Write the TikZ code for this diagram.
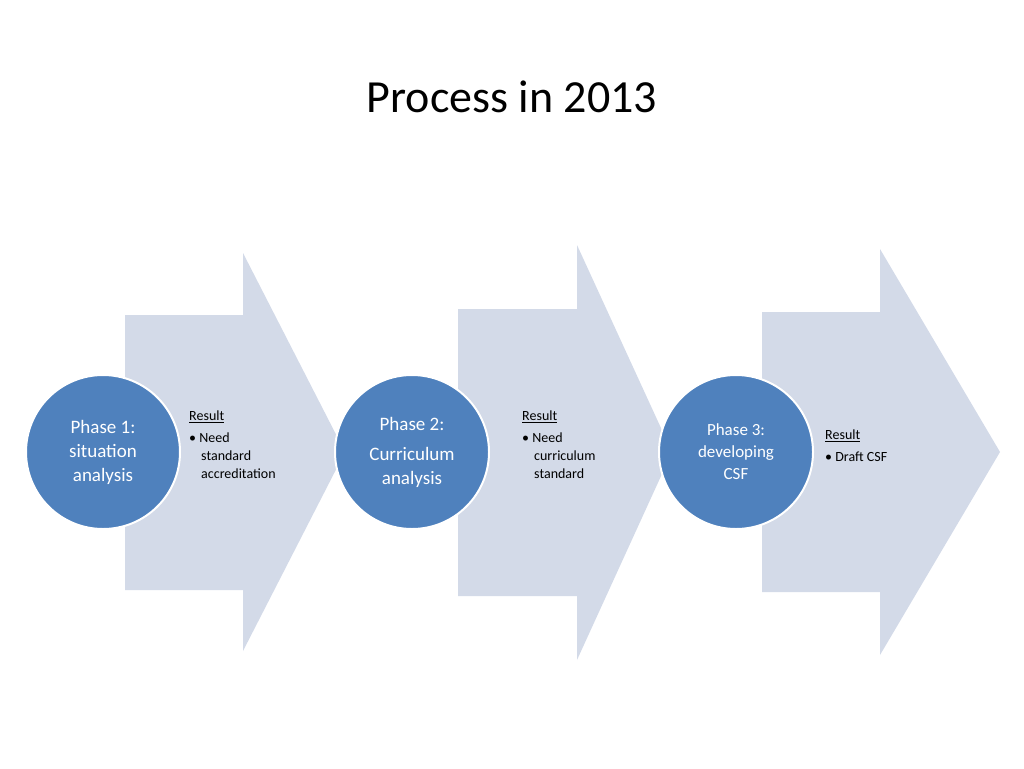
\documentclass[tikz,border=0pt]{standalone}
\usepackage{fontspec}
\setmainfont{Carlito}
\begin{document}
\begin{tikzpicture}[x=1pt,y=-1pt,
 arr/.style={fill=arrfill,draw=none},
 phase/.style={circle,fill=phblue,draw=white,line width=2pt,minimum size=154pt,text=white,align=center,font=\fontsize{19}{24}\selectfont},
 res/.style={anchor=north west,align=left,text=black,font=\fontsize{14}{18}\selectfont,inner sep=0pt}]
\definecolor{arrfill}{HTML}{D3DAE8}
\definecolor{phblue}{HTML}{4F81BD}
\useasboundingbox (0,0) rectangle (1024,768);
\node[font=\fontsize{46}{50}\selectfont] (title) at (512,97) {Process in 2013};
\fill[arrfill] (125,315) -- (243,315) -- (243,253) -- (345,452) -- (243,651) -- (243,590) -- (125,590) -- cycle;
\fill[arrfill] (458,309) -- (577,309) -- (577,245) -- (672,452) -- (577,660) -- (577,596) -- (458,596) -- cycle;
\fill[arrfill] (762,312) -- (880,312) -- (880,249) -- (1000,452) -- (880,655) -- (880,592) -- (762,592) -- cycle;
\node[phase] (p1) at (103,452) {Phase 1:\\situation\\analysis};
\node[phase] (p2) at (412,452) {Phase 2:\\[6pt]Curriculum\\analysis};
\node[phase,font=\fontsize{17}{22}\selectfont] (p3) at (736,452) {Phase 3:\\developing\\CSF};
\node[res] (r1) at (189,411) {\underline{Result}\\[4pt]\textbullet\ Need\\\hspace*{12pt}standard\\\hspace*{12pt}accreditation};
\node[res] (r2) at (522,411) {\underline{Result}\\[4pt]\textbullet\ Need\\\hspace*{12pt}curriculum\\\hspace*{12pt}standard};
\node[res] (r3) at (825,430) {\underline{Result}\\[4pt]\textbullet\ Draft CSF};
\end{tikzpicture}
\end{document}
